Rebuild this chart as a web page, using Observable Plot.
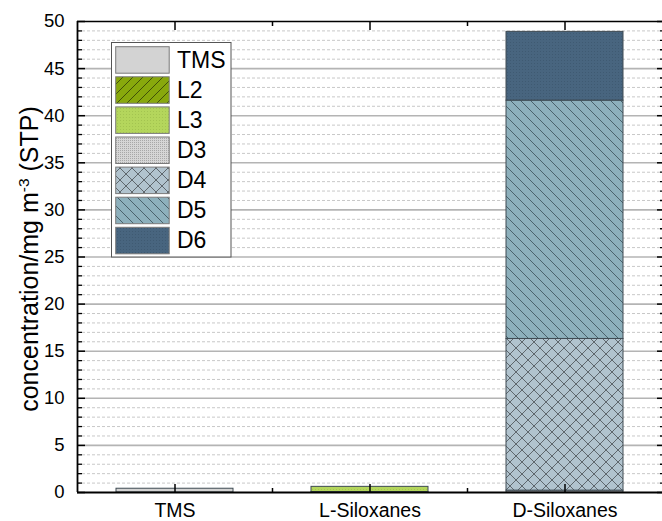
<!DOCTYPE html>
<html>
<head>
<meta charset="utf-8">
<script src="https://cdn.jsdelivr.net/npm/d3@7"></script>
<script src="https://cdn.jsdelivr.net/npm/@observablehq/plot@0.6"></script>
<style>
  html, body { margin: 0; padding: 0; background: #fff; }
  svg { display: block; }
</style>
</head>
<body>
<div id="chart"></div>
<script>
// ---- data ----
const categories = ["TMS", "L-Siloxanes", "D-Siloxanes"];
const series = ["TMS", "L2", "L3", "D3", "D4", "D5", "D6"];
const seriesCategory = ["TMS", "L-Siloxanes", "L-Siloxanes", "D-Siloxanes", "D-Siloxanes", "D-Siloxanes", "D-Siloxanes"];
const values = [0.4, 0.05, 0.55, 0.2, 16.1, 25.3, 7.3];
const yMajorTicks = [0, 5, 10, 15, 20, 25, 30, 35, 40, 45, 50];
const yMinorTicks = d3.range(0, 51, 1).filter(v => v % 5 !== 0);
const yTitle = ["concentration/mg m", "-3", " (STP)"];

// ---- stacked rows ----
const totals = new Map();
const rows = series.map((s, i) => {
  const cat = seriesCategory[i];
  const base = totals.get(cat) || 0;
  totals.set(cat, base + values[i]);
  const xi = categories.indexOf(cat);
  return {series: s, category: cat, x1: xi - 0.3, x2: xi + 0.3, y1: base, y2: base + values[i]};
});
const catIdx = categories.map((c, i) => i);
const catBounds = catIdx.slice(1).map(i => i - 0.5);

const FONT = "'Liberation Sans', Arial, sans-serif";

const svg = Plot.plot({
  width: 662,
  height: 521,
  marginLeft: 77,
  marginRight: 0,
  marginTop: 21,
  marginBottom: 29,
  style: {fontFamily: FONT, background: "#fff", color: "#000"},
  x: {domain: [-0.5, categories.length - 0.5]},
  y: {domain: [0, 50]},
  color: {domain: series, range: series.map(s => `url(#pat-${s})`)},
  marks: [
    Plot.gridY({ticks: yMinorTicks, stroke: "#c8c8c8", strokeOpacity: 1, strokeWidth: 1, strokeDasharray: "3,2"}),
    Plot.gridY({ticks: yMajorTicks.slice(1, -1), stroke: "#b4b4b4", strokeOpacity: 1, strokeWidth: 1.6}),
    Plot.rect(rows, {x1: "x1", x2: "x2", y1: "y1", y2: "y2", fill: "series", stroke: "#3e4a52", strokeWidth: 1}),
    // left axis
    Plot.axisY({ticks: yMajorTicks, tickSize: 0, tickPadding: 13, fontSize: 18.5, tickFormat: d => String(d)}),
    Plot.axisY({ticks: yMajorTicks, tickSize: -8, text: null, strokeWidth: 1.5}),
    Plot.axisY({ticks: yMinorTicks, tickSize: -5, text: null, strokeWidth: 1.3}),
    // right axis ticks
    Plot.axisY({anchor: "right", ticks: yMajorTicks, tickSize: -6, text: null, strokeWidth: 1.5}),
    Plot.axisY({anchor: "right", ticks: yMinorTicks, tickSize: -3, text: null, strokeWidth: 1.3}),
    // bottom axis
    Plot.axisX({ticks: catIdx, tickSize: 0, tickPadding: 11, fontSize: 19.5, tickFormat: i => categories[i]}),
    Plot.axisX({ticks: catIdx, tickSize: -8, text: null, strokeWidth: 1.5}),
    Plot.axisX({ticks: catBounds, tickSize: -4, text: null, strokeWidth: 1.5}),
    // top axis ticks
    Plot.axisX({anchor: "top", ticks: catIdx, tickSize: -8, text: null, strokeWidth: 1.5}),
    Plot.axisX({anchor: "top", ticks: catBounds, tickSize: -4, text: null, strokeWidth: 1.5}),
    // frame
    Plot.ruleX([-0.5], {stroke: "#000", strokeWidth: 1.8}),
    Plot.ruleY([0], {stroke: "#000", strokeWidth: 1.8}),
    Plot.ruleY([50], {stroke: "#000", strokeWidth: 1.3})
  ]
});

document.getElementById("chart").appendChild(svg);

// ---- patterns ----
const root = d3.select(svg);
const defs = root.insert("defs", ":first-child");
function pattern(id, size, bg, draw) {
  const p = defs.append("pattern").attr("id", id)
    .attr("patternUnits", "userSpaceOnUse")
    .attr("width", size).attr("height", size);
  p.append("rect").attr("width", size).attr("height", size).attr("fill", bg);
  if (draw) draw(p, size);
}
function back(p, s, color, w) { // "\" lines
  [[0, 0, s, s], [-1, s - 1, 1, s + 1], [s - 1, -1, s + 1, 1]].forEach(([a, b, c, d]) =>
    p.append("line").attr("x1", a).attr("y1", b).attr("x2", c).attr("y2", d).attr("stroke", color).attr("stroke-width", w));
}
function fwd(p, s, color, w) { // "/" lines
  [[0, s, s, 0], [-1, 1, 1, -1], [s - 1, s + 1, s + 1, s - 1]].forEach(([a, b, c, d]) =>
    p.append("line").attr("x1", a).attr("y1", b).attr("x2", c).attr("y2", d).attr("stroke", color).attr("stroke-width", w));
}
function dots(p, s, color) {
  p.append("rect").attr("x", 0).attr("y", 0).attr("width", 1).attr("height", 1).attr("fill", color);
}
pattern("pat-TMS", 4, "#d3d3d3");
pattern("pat-L2", 10, "#88a80c", (p, s) => fwd(p, s, "#2e3a08", 0.8));
pattern("pat-L3", 3, "#b4d65c", (p, s) => dots(p, s, "#a3c450"));
pattern("pat-D3", 2, "#d6d6d6", (p, s) => { dots(p, s, "#a8a8a8"); });
pattern("pat-D4", 12, "#b1c3ce", (p, s) => { back(p, s, "#4a4f54", 0.8); fwd(p, s, "#4a4f54", 0.8); });
pattern("pat-D5", 10, "#8db0bc", (p, s) => back(p, s, "#3a4e58", 0.8));
pattern("pat-D6", 3, "#48657f", (p, s) => dots(p, s, "#3f5a72"));

// ---- y title ----
const t = root.append("text")
  .attr("transform", "translate(38,259) rotate(-90)")
  .attr("text-anchor", "middle")
  .attr("font-family", FONT)
  .attr("font-size", 25)
  .attr("fill", "#000");
t.append("tspan").text(yTitle[0]);
t.append("tspan").attr("dy", "-0.55em").attr("font-size", "0.62em").text(yTitle[1]);
t.append("tspan").attr("dy", "0.34em").text(yTitle[2]);

// ---- legend ----
const lg = root.append("g").attr("font-family", FONT).attr("text-anchor", "start");
lg.append("rect").attr("x", 111.5).attr("y", 42.5).attr("width", 119.5).attr("height", 214.5)
  .attr("fill", "#fff").attr("stroke", "#555").attr("stroke-width", 1);
series.forEach((s, i) => {
  const y = 46.7 + i * 30.1;
  lg.append("rect").attr("x", 115.7).attr("y", y).attr("width", 53.5).attr("height", 26.5)
    .attr("fill", `url(#pat-${s})`).attr("stroke", "#7a7a7a").attr("stroke-width", 1);
  lg.append("text").attr("x", 177).attr("y", y + 21).attr("font-size", 23)
    .attr("text-anchor", "start").attr("fill", "#000").text(s);
});
</script>
</body>
</html>
